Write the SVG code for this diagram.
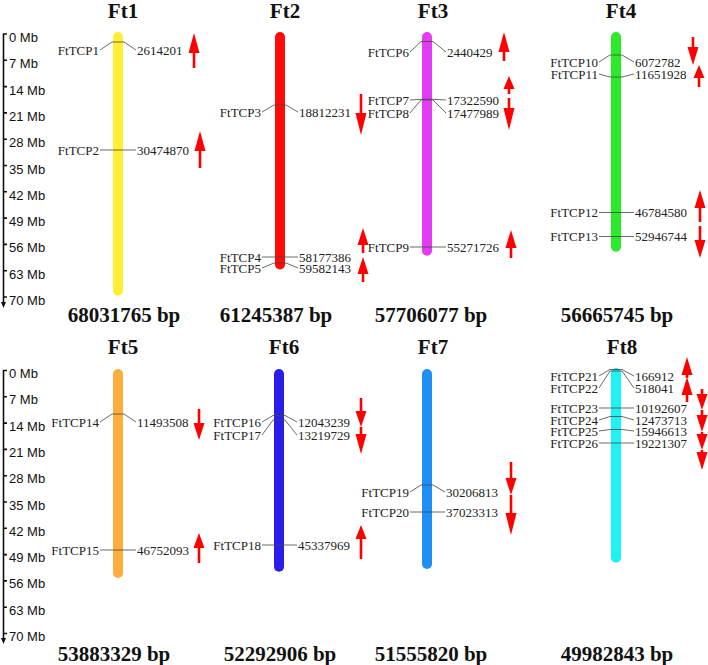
<svg xmlns="http://www.w3.org/2000/svg" width="708" height="665" viewBox="0 0 708 665">
<style>
.ttl{font-family:"Liberation Serif","Times New Roman",serif;font-weight:bold;font-size:21px;fill:#111;text-anchor:middle}
.gl{font-family:"Liberation Serif","Times New Roman",serif;font-size:13px;fill:#222;text-anchor:end}
.gr{font-family:"Liberation Serif","Times New Roman",serif;font-size:13px;fill:#222;text-anchor:start}
.ax{font-family:"Liberation Sans",Arial,sans-serif;font-size:13px;fill:#111}
.axl{stroke:#111;stroke-width:1.6;fill:none}
.cn{stroke:#444;stroke-width:0.8;fill:none}
.arr{fill:#FF0000}
</style>
<rect width="708" height="665" fill="#fff"/>

<g id="axis-top">
<path class="axl" d="M7,34 L3.5,34 L3.5,303 M3.5,60.3 H7 M3.5,86.6 H7 M3.5,112.9 H7 M3.5,139.2 H7 M3.5,165.5 H7 M3.5,191.8 H7 M3.5,218.1 H7 M3.5,244.4 H7 M3.5,270.7 H7 M3.5,297 H7"/>
<path d="M1,302 L6,302 L3.5,308 Z" fill="#111"/>
<text class="ax" x="9" y="42">0 Mb</text>
<text class="ax" x="9" y="68.3">7 Mb</text>
<text class="ax" x="9" y="94.6">14 Mb</text>
<text class="ax" x="9" y="120.9">21 Mb</text>
<text class="ax" x="9" y="147.2">28 Mb</text>
<text class="ax" x="9" y="173.5">35 Mb</text>
<text class="ax" x="9" y="199.8">42 Mb</text>
<text class="ax" x="9" y="226.1">49 Mb</text>
<text class="ax" x="9" y="252.4">56 Mb</text>
<text class="ax" x="9" y="278.7">63 Mb</text>
<text class="ax" x="9" y="305">70 Mb</text>
</g>

<g id="axis-bottom">
<path class="axl" d="M7,370.5 L3.5,370.5 L3.5,639 M3.5,396.8 H7 M3.5,423.1 H7 M3.5,449.4 H7 M3.5,475.7 H7 M3.5,502 H7 M3.5,528.3 H7 M3.5,554.6 H7 M3.5,580.9 H7 M3.5,607.2 H7 M3.5,633.5 H7"/>
<path d="M1,638 L6,638 L3.5,644 Z" fill="#111"/>
<text class="ax" x="9" y="378">0 Mb</text>
<text class="ax" x="9" y="404.3">7 Mb</text>
<text class="ax" x="9" y="430.6">14 Mb</text>
<text class="ax" x="9" y="456.9">21 Mb</text>
<text class="ax" x="9" y="483.2">28 Mb</text>
<text class="ax" x="9" y="509.5">35 Mb</text>
<text class="ax" x="9" y="535.8">42 Mb</text>
<text class="ax" x="9" y="562.1">49 Mb</text>
<text class="ax" x="9" y="588.4">56 Mb</text>
<text class="ax" x="9" y="614.7">63 Mb</text>
<text class="ax" x="9" y="641">70 Mb</text>
</g>

<g id="Ft1">
<text class="ttl" x="123" y="18">Ft1</text>
<rect x="113" y="32" width="10" height="263.8" rx="5" fill="#FFEE33"/>
<text class="gl" x="99" y="54.5">FtTCP1</text><text class="gr" x="137" y="54.5">2614201</text>
<text class="gl" x="99" y="154.5">FtTCP2</text><text class="gr" x="137" y="154.5">30474870</text>
<path class="arr" d="M194,33 L199.5,53 L195.3,53 L195.3,68 L192.7,68 L192.7,53 L188.5,53Z"/>
<path class="arr" d="M200,131 L205.5,151 L201.3,151 L201.3,168 L198.7,168 L198.7,151 L194.5,151Z"/>
<text class="ttl" x="124" y="322">68031765 bp</text>
</g>

<g id="Ft2">
<text class="ttl" x="285" y="18">Ft2</text>
<rect x="275" y="32" width="10" height="237.4" rx="5" fill="#FF0A0A"/>
<text class="gl" x="261" y="116.5">FtTCP3</text><text class="gr" x="299" y="116.5">18812231</text>
<text class="gl" x="261" y="261.5">FtTCP4</text><text class="gr" x="299" y="261.5">58177386</text>
<text class="gl" x="261" y="272.5">FtTCP5</text><text class="gr" x="299" y="272.5">59582143</text>
<path class="arr" d="M361,135 L366.5,113 L362.3,113 L362.3,94 L359.7,94 L359.7,113 L355.5,113Z"/>
<path class="arr" d="M363,228 L368.5,245 L364.3,245 L364.3,253 L361.7,253 L361.7,245 L357.5,245Z"/>
<path class="arr" d="M363,257 L368.5,274 L364.3,274 L364.3,282 L361.7,282 L361.7,274 L357.5,274Z"/>
<text class="ttl" x="276" y="322">61245387 bp</text>
</g>

<g id="Ft3">
<text class="ttl" x="433" y="18">Ft3</text>
<rect x="422" y="32" width="10" height="223.7" rx="5" fill="#E43CF5"/>
<text class="gl" x="409" y="56.5">FtTCP6</text><text class="gr" x="447" y="56.5">2440429</text>
<text class="gl" x="409" y="104.5">FtTCP7</text><text class="gr" x="447" y="104.5">17322590</text>
<text class="gl" x="409" y="117.5">FtTCP8</text><text class="gr" x="447" y="117.5">17477989</text>
<text class="gl" x="409" y="251.5">FtTCP9</text><text class="gr" x="447" y="251.5">55271726</text>
<path class="arr" d="M504,32 L509.5,52 L505.3,52 L505.3,61 L502.7,61 L502.7,52 L498.5,52Z"/>
<path class="arr" d="M509,76 L514.5,89 L510.3,89 L510.3,94 L507.7,94 L507.7,89 L503.5,89Z"/>
<path class="arr" d="M509,130 L514.5,108 L510.3,108 L510.3,98 L507.7,98 L507.7,108 L503.5,108Z"/>
<path class="arr" d="M511,230 L516.5,248 L512.3,248 L512.3,258 L509.7,258 L509.7,248 L505.5,248Z"/>
<text class="ttl" x="431" y="322">57706077 bp</text>
</g>

<g id="Ft4">
<text class="ttl" x="621" y="18">Ft4</text>
<rect x="611" y="32" width="10" height="219.7" rx="5" fill="#2BEA2B"/>
<text class="gl" x="598" y="66.5">FtTCP10</text><text class="gr" x="635" y="66.5">6072782</text>
<text class="gl" x="598" y="78.5">FtTCP11</text><text class="gr" x="635" y="78.5">11651928</text>
<text class="gl" x="598" y="216.5">FtTCP12</text><text class="gr" x="635" y="216.5">46784580</text>
<text class="gl" x="598" y="240.5">FtTCP13</text><text class="gr" x="635" y="240.5">52946744</text>
<path class="arr" d="M693,65 L698.5,47 L694.3,47 L694.3,37 L691.7,37 L691.7,47 L687.5,47Z"/>
<path class="arr" d="M699,65 L704.5,78 L700.3,78 L700.3,87 L697.7,87 L697.7,78 L693.5,78Z"/>
<path class="arr" d="M700,190 L705.5,208 L701.3,208 L701.3,222 L698.7,222 L698.7,208 L694.5,208Z"/>
<path class="arr" d="M700,258 L705.5,240 L701.3,240 L701.3,226 L698.7,226 L698.7,240 L694.5,240Z"/>
<text class="ttl" x="617" y="322">56665745 bp</text>
</g>

<g id="Ft5">
<text class="ttl" x="123" y="354">Ft5</text>
<rect x="113" y="369" width="10" height="208.9" rx="5" fill="#FDAE3A"/>
<text class="gl" x="99" y="426.5">FtTCP14</text><text class="gr" x="137" y="426.5">11493508</text>
<text class="gl" x="99" y="554.5">FtTCP15</text><text class="gr" x="137" y="554.5">46752093</text>
<path class="arr" d="M199,440 L204.5,423 L200.3,423 L200.3,409 L197.7,409 L197.7,423 L193.5,423Z"/>
<path class="arr" d="M199,533 L204.5,548 L200.3,548 L200.3,563 L197.7,563 L197.7,548 L193.5,548Z"/>
<text class="ttl" x="114" y="660.5">53883329 bp</text>
</g>

<g id="Ft6">
<text class="ttl" x="284" y="354">Ft6</text>
<rect x="274" y="369" width="10" height="202.7" rx="5" fill="#2C1EE8"/>
<text class="gl" x="261" y="426.5">FtTCP16</text><text class="gr" x="298" y="426.5">12043239</text>
<text class="gl" x="261" y="439.5">FtTCP17</text><text class="gr" x="298" y="439.5">13219729</text>
<text class="gl" x="261" y="549.5">FtTCP18</text><text class="gr" x="298" y="549.5">45337969</text>
<path class="arr" d="M361,427 L366.5,411 L362.3,411 L362.3,398 L359.7,398 L359.7,411 L355.5,411Z"/>
<path class="arr" d="M361,454 L366.5,434 L362.3,434 L362.3,427 L359.7,427 L359.7,434 L355.5,434Z"/>
<path class="arr" d="M361,525 L366.5,539 L362.3,539 L362.3,559 L359.7,559 L359.7,539 L355.5,539Z"/>
<text class="ttl" x="280" y="660.5">52292906 bp</text>
</g>

<g id="Ft7">
<text class="ttl" x="433" y="354">Ft7</text>
<rect x="422" y="369" width="10" height="199.9" rx="5" fill="#1F8FF5"/>
<text class="gl" x="409" y="496.5">FtTCP19</text><text class="gr" x="446" y="496.5">30206813</text>
<text class="gl" x="409" y="516.5">FtTCP20</text><text class="gr" x="446" y="516.5">37023313</text>
<path class="arr" d="M511,495 L516.5,478 L512.3,478 L512.3,462 L509.7,462 L509.7,478 L505.5,478Z"/>
<path class="arr" d="M511,535 L516.5,513 L512.3,513 L512.3,495 L509.7,495 L509.7,513 L505.5,513Z"/>
<text class="ttl" x="431" y="660.5">51555820 bp</text>
</g>

<g id="Ft8">
<text class="ttl" x="622" y="354">Ft8</text>
<rect x="611" y="368" width="10" height="194.8" rx="5" fill="#1EF2F2"/>
<text class="gl" x="598" y="380.5">FtTCP21</text><text class="gr" x="635" y="380.5">166912</text>
<text class="gl" x="598" y="392.5">FtTCP22</text><text class="gr" x="635" y="392.5">518041</text>
<text class="gl" x="598" y="412.5">FtTCP23</text><text class="gr" x="635" y="412.5">10192607</text>
<text class="gl" x="598" y="424.5">FtTCP24</text><text class="gr" x="635" y="424.5">12473713</text>
<text class="gl" x="598" y="435.5">FtTCP25</text><text class="gr" x="635" y="435.5">15946613</text>
<text class="gl" x="598" y="447.5">FtTCP26</text><text class="gr" x="635" y="447.5">19221307</text>
<path class="arr" d="M687,357 L692.5,375 L688.3,375 L688.3,378 L685.7,378 L685.7,375 L681.5,375Z"/>
<path class="arr" d="M687,377 L692.5,395 L688.3,395 L688.3,402 L685.7,402 L685.7,395 L681.5,395Z"/>
<path class="arr" d="M702,410 L707.5,394 L703.3,394 L703.3,389 L700.7,389 L700.7,394 L696.5,394Z"/>
<path class="arr" d="M702,432 L707.5,415 L703.3,415 L703.3,410 L700.7,410 L700.7,415 L696.5,415Z"/>
<path class="arr" d="M702,450 L707.5,434 L703.3,434 L703.3,432 L700.7,432 L700.7,434 L696.5,434Z"/>
<path class="arr" d="M702,470 L707.5,452 L703.3,452 L703.3,450 L700.7,450 L700.7,452 L696.5,452Z"/>
<text class="ttl" x="617" y="660.5">49982843 bp</text>
</g>

<g id="connectors">
<path class="cn" d="M100,50 L112,42 L124,42 L136,50"/>
<path class="cn" d="M100,150 L136,150"/>
<path class="cn" d="M262,112 L274,105 L286,105 L298,112"/>
<path class="cn" d="M262,257 L298,257"/>
<path class="cn" d="M262,268 L274,263 L286,263 L298,268"/>
<path class="cn" d="M410,52 L421,41.5 L433,41.5 L446,52"/>
<path class="cn" d="M410,100 L421,99.3 L433,99.3 L446,100"/>
<path class="cn" d="M410,113 L421,100 L433,100 L446,113"/>
<path class="cn" d="M410,247 L446,247"/>
<path class="cn" d="M599,62 L610,55 L622,55 L634,62"/>
<path class="cn" d="M599,74 L610,77 L622,77 L634,74"/>
<path class="cn" d="M599,212.5 L634,212.5"/>
<path class="cn" d="M599,236.5 L634,236.5"/>
<path class="cn" d="M100,422 L112,414 L124,414 L136,422"/>
<path class="cn" d="M100,550 L136,550"/>
<path class="cn" d="M262,422 L273,415.5 L285,415.5 L297,422"/>
<path class="cn" d="M262,435 L273,420 L285,420 L297,435"/>
<path class="cn" d="M262,545 L297,545"/>
<path class="cn" d="M410,492 L421,485 L433,485 L445,492"/>
<path class="cn" d="M410,512 L445,512"/>
<path class="cn" d="M599,376 L610,369.5 L622,369.5 L634,376"/>
<path class="cn" d="M599,388 L610,371 L622,371 L634,388"/>
<path class="cn" d="M599,408 L634,408"/>
<path class="cn" d="M599,420 L610,416.5 L622,416.5 L634,420"/>
<path class="cn" d="M599,431 L610,429.5 L622,429.5 L634,431"/>
<path class="cn" d="M599,443 L634,443"/>
</g>
</svg>
